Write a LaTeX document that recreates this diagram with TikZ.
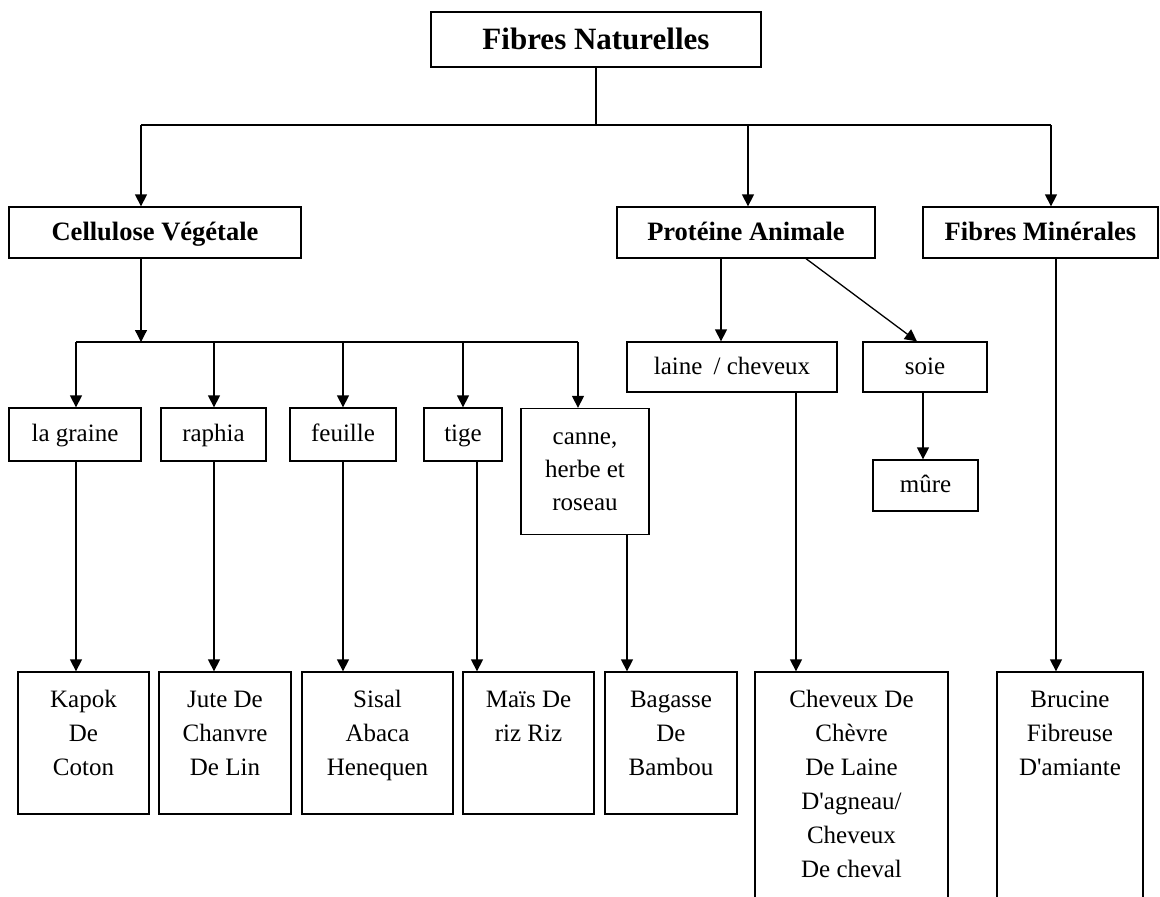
\documentclass[tikz,border=0pt]{standalone}
\usepackage{fontspec}
\setmainfont{Liberation Serif}
\usetikzlibrary{arrows.meta}
\begin{document}
\begin{tikzpicture}[x=1pt,y=-1pt,
  box/.style={draw, line width=1.3pt, rectangle, inner sep=0pt, align=center, font=\fontsize{25}{33}\selectfont},
  one/.style={box, text height=19pt, text depth=5pt},
  head/.style={box, text height=20pt, text depth=5pt, font=\fontsize{26.5}{30}\selectfont\bfseries},
  txt/.style={inner sep=0pt, anchor=north, align=center, font=\fontsize{25}{34}\selectfont},
  ln/.style={line width=1.3pt},
  arr/.style={ln, -{Triangle[width=12pt,length=12pt]}}]
\useasboundingbox (0,0) rectangle (1160,897);
\clip (0,0) rectangle (1160,897);

% level 0
\node[box, font=\fontsize{31}{36}\selectfont\bfseries, text height=24pt, text depth=4pt, minimum width=330pt, minimum height=55pt] (top) at (596,39.5) {Fibres Naturelles};

% level 1
\node[head, minimum width=292pt, minimum height=51pt] (cel) at (155,232.5) {Cellulose Végétale};
\node[head, minimum width=258pt, minimum height=51pt] (pro) at (746,232.5) {Protéine Animale};
\node[head, minimum width=235pt, minimum height=51pt] (min) at (1040.5,232.5) {Fibres Minérales};

% level 2
\node[one, minimum width=132pt, minimum height=53pt] (graine) at (75,434.5) {la graine};
\node[one, minimum width=105pt, minimum height=53pt] (raphia) at (213.5,434.5) {raphia};
\node[one, minimum width=106pt, minimum height=53pt] (feuille) at (343,434.5) {feuille};
\node[one, minimum width=78pt, minimum height=53pt] (tige) at (463,434.5) {tige};
\node[box, minimum width=128pt, minimum height=126pt] (canne) at (585,471.5) {canne,\\herbe et\\roseau};
\node[one, minimum width=210pt, minimum height=50pt] (laine) at (732,367) {laine\hspace{0.45em}/ cheveux};
\node[one, minimum width=124pt, minimum height=50pt] (soie) at (925,367) {soie};
\node[one, minimum width=105pt, minimum height=51pt] (mure) at (925.5,485.5) {mûre};

% level 3 boxes
\node[box, minimum width=131pt, minimum height=142pt] (kapok) at (83.5,743) {};
\node[box, minimum width=132pt, minimum height=142pt] (jute) at (225,743) {};
\node[box, minimum width=151pt, minimum height=142pt] (sisal) at (377.5,743) {};
\node[box, minimum width=131pt, minimum height=142pt] (mais) at (528.5,743) {};
\node[box, minimum width=132pt, minimum height=142pt] (bagasse) at (671,743) {};
\node[box, minimum width=193pt, minimum height=248pt] (chev) at (851.5,796) {};
\node[box, minimum width=146pt, minimum height=248pt] (bruc) at (1070,796) {};

\node[txt] (kapokT) at (83.5,690) {\rule{0pt}{17pt}Kapok\\De\\Coton};
\node[txt] (juteT) at (225,690) {\rule{0pt}{17pt}Jute De\\Chanvre\\De Lin};
\node[txt] (sisalT) at (377.5,690) {\rule{0pt}{17pt}Sisal\\Abaca\\Henequen};
\node[txt] (maisT) at (528.5,690) {\rule{0pt}{17pt}Maïs De\\riz Riz};
\node[txt] (bagasseT) at (671,690) {\rule{0pt}{17pt}Bagasse\\De\\Bambou};
\node[txt] (chevT) at (851.5,690) {\rule{0pt}{17pt}Cheveux De\\Chèvre\\De Laine\\D\textquotesingle agneau/\\Cheveux\\De cheval};
\node[txt] (brucT) at (1070,690) {\rule{0pt}{17pt}Brucine\\Fibreuse\\D\textquotesingle amiante};

% bus coordinates
\coordinate (busA) at (596,125);
\coordinate (busL) at (141,125);
\coordinate (busM) at (748,125);
\coordinate (busR) at (1051,125);
\coordinate (cb) at (141,342);
\coordinate (c1) at (76,342);
\coordinate (c2) at (214,342);
\coordinate (c3) at (343,342);
\coordinate (c4) at (463,342);
\coordinate (c5) at (578,342);
\coordinate (d4) at (477,0);
\coordinate (d5) at (627,0);
\coordinate (d6) at (796,0);
\coordinate (d7) at (923,0);
\coordinate (d8) at (1056,0);
\coordinate (d9) at (721,0);
\coordinate (d10) at (806,0);
\coordinate (d11) at (917,0);

% connectors
\draw[ln] (top.south) -- (busA);
\draw[ln] (busL) -- (busR);
\draw[arr] (busL) -- (busL |- cel.north);
\draw[arr] (busM) -- (busM |- pro.north);
\draw[arr] (busR) -- (busR |- min.north);

\draw[arr] (cb |- cel.south) -- (cb);
\draw[ln] (c1) -- (c5);
\draw[arr] (c1) -- (c1 |- graine.north);
\draw[arr] (c2) -- (c2 |- raphia.north);
\draw[arr] (c3) -- (c3 |- feuille.north);
\draw[arr] (c4) -- (c4 |- tige.north);
\draw[arr] (c5) -- (c5 |- canne.north);

\draw[arr] (c1 |- graine.south) -- (c1 |- kapok.north);
\draw[arr] (c2 |- raphia.south) -- (c2 |- jute.north);
\draw[arr] (c3 |- feuille.south) -- (c3 |- sisal.north);
\draw[arr] (d4 |- tige.south) -- (d4 |- mais.north);
\draw[arr] (d5 |- canne.south) -- (d5 |- bagasse.north);

\draw[arr] (d9 |- pro.south) -- (d9 |- laine.north);
\draw[arr] (d10 |- pro.south) -- (d11 |- soie.north);
\draw[arr] (d6 |- laine.south) -- (d6 |- chev.north);
\draw[arr] (d7 |- soie.south) -- (d7 |- mure.north);
\draw[arr] (d8 |- min.south) -- (d8 |- bruc.north);
\end{tikzpicture}
\end{document}
